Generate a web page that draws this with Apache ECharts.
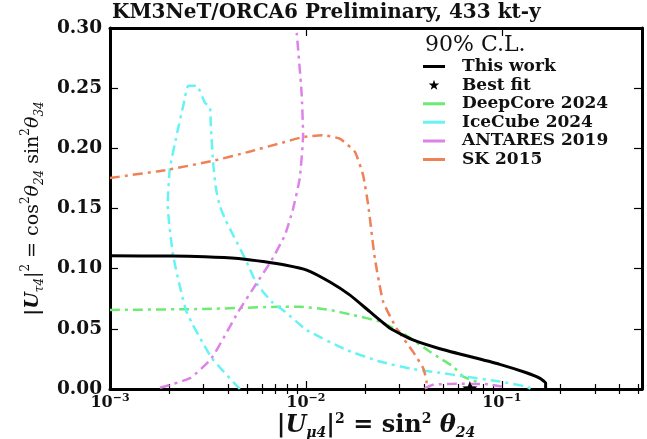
<!DOCTYPE html>
<html>
<head>
<meta charset="utf-8">
<script src="https://cdn.jsdelivr.net/npm/echarts@6/dist/echarts.min.js"></script>
<style>
  html, body { margin: 0; padding: 0; background: #ffffff; }
  #chart { width: 647px; height: 439px; }
</style>
</head>
<body>
<div id="chart"></div>
<script>
// 90% C.L. exclusion contours in the |U_mu4|^2 - |U_tau4|^2 plane, as [x, y] pairs
const thisWork = [
  [0.001, 0.1107], [0.00206, 0.1105], [0.00305, 0.110], [0.00452, 0.1085],
  [0.00618, 0.1057], [0.00782, 0.103], [0.0101, 0.0988], [0.0132, 0.0891],
  [0.0168, 0.078], [0.0212, 0.0643], [0.0269, 0.0505], [0.0352, 0.0408],
  [0.0483, 0.0335], [0.0687, 0.027], [0.0977, 0.0205], [0.1337, 0.0135],
  [0.156, 0.009], [0.1675, 0.0049], [0.1675, 0]
];
const bestFit = [[0.0687, 0]];
const deepCore = [
  [0.001, 0.0657], [0.00305, 0.0665], [0.00782, 0.0684], [0.0093, 0.0684],
  [0.0132, 0.0657], [0.0174, 0.0615], [0.0239, 0.056], [0.0313, 0.0463],
  [0.043, 0.031], [0.0483, 0.0256], [0.0565, 0.0187], [0.0635, 0.0104],
  [0.0743, 0.006]
];
const iceCube = [
  [0.0046, 0], [0.0033, 0.026], [0.00246, 0.064], [0.0021, 0.111],
  [0.00197, 0.153], [0.00202, 0.183], [0.00219, 0.211], [0.00237, 0.236],
  [0.00251, 0.252], [0.00277, 0.252], [0.00305, 0.238], [0.00324, 0.234],
  [0.00327, 0.219], [0.00337, 0.186], [0.00348, 0.166], [0.00364, 0.152],
  [0.0039, 0.140], [0.00425, 0.128], [0.00489, 0.1085], [0.0056, 0.0878],
  [0.00668, 0.0726], [0.00782, 0.0643], [0.0101, 0.049], [0.0161, 0.0325],
  [0.0239, 0.0228], [0.0352, 0.0165], [0.0483, 0.0135], [0.065, 0.0104],
  [0.0977, 0.0062], [0.1337, 0.002], [0.141, 0]
];
const antaresUpper = [
  [0.0018, 0.001], [0.00256, 0.009], [0.0033, 0.0256], [0.00452, 0.0643],
  [0.0056, 0.0878], [0.00668, 0.107], [0.00782, 0.128], [0.00861, 0.150],
  [0.0093, 0.175], [0.00968, 0.211], [0.0095, 0.247], [0.00898, 0.296],
  [0.0089, 0.30]
];
const antaresLower = [
  [0.0404, 0.0005], [0.0446, 0.0035], [0.0588, 0.0043], [0.0838, 0.004],
  [0.1, 0.002]
];
const sk2015 = [
  [0.001, 0.1754], [0.00191, 0.1818], [0.00344, 0.190], [0.00508, 0.197],
  [0.00782, 0.2053], [0.00968, 0.2094], [0.01225, 0.2108], [0.0149, 0.208],
  [0.0178, 0.197], [0.0196, 0.1776], [0.0208, 0.153], [0.0225, 0.1085],
  [0.0248, 0.0726], [0.029, 0.0505], [0.0352, 0.0311], [0.0397, 0.0173],
  [0.0413, 0.0062], [0.0413, 0]
];

// axis ticks and labels
const xMajorTicks = [0.001, 0.01, 0.1];
const xMinorTicks = [
  0.002, 0.003, 0.004, 0.005, 0.006, 0.007, 0.008, 0.009,
  0.02, 0.03, 0.04, 0.05, 0.06, 0.07, 0.08, 0.09,
  0.2, 0.3, 0.4, 0.5
];

const legendNames = ['This work', 'Best fit', 'DeepCore 2024', 'IceCube 2024', 'ANTARES 2019', 'SK 2015'];
const titleText = 'KM3NeT/ORCA6 Preliminary, 433 kt-y';
const legendHeader = '90% C.L.';

const SERIF = 'DejaVu Serif';
const COLORS = {
  thisWork: '#000000',
  deepCore: '#6ceb72',
  iceCube: '#66f3f3',
  antares: '#dc82e8',
  sk: '#ef8157'
};
const DASHDOT = [10, 5, 3, 5];
const X_MIN = 0.001, X_MAX = 0.52;
const FRAME = { show: true, onZero: false, lineStyle: { color: '#000', width: 3 } };
const TICK_STYLE = { color: '#000', width: 1.2 };

// legend icons: drawn inside a 34x12 box so the text sits further right
const BOX = 'M0,0 L0.01,0.01 L0,0.01 Z M33.99,11.99 L34,12 L33.99,12 Z ';
const LINE_ICON = 'path://' + BOX + 'M0,4.5 L22,4.5 L22,7.5 L0,7.5 Z';
const STAR_ICON = 'path://' + BOX + 'M11,0.6 L12.29,4.32 L16.33,4.37 L13.09,6.78 L14.29,10.63 L11,8.3 L7.71,10.63 L8.91,6.78 L5.67,4.37 L9.71,4.32 Z';

function supLabel(v) {
  const e = Math.round(Math.log10(v));
  return '{b|10}{s|' + (e < 0 ? '\u2212' + (-e) : e) + '}';
}

function starPoints(cx, cy, R, r) {
  const pts = [];
  for (let k = 0; k < 10; k++) {
    const a = -Math.PI / 2 + k * Math.PI / 5;
    const rad = k % 2 === 0 ? R : r;
    pts.push([cx + rad * Math.cos(a), cy + rad * Math.sin(a)]);
  }
  return pts;
}

function lineSeries(name, data, color, width, dashed) {
  return {
    type: 'line', name: name, data: data,
    xAxisIndex: 0, yAxisIndex: 0,
    symbol: 'none', smooth: 0.15, clip: true, silent: true,
    lineStyle: { color: color, width: width, type: dashed ? DASHDOT : 'solid', cap: 'butt' },
    itemStyle: { color: color },
    z: dashed ? 3 : 4
  };
}

// extra log axes that only carry minor ticks (an axis whose side is taken
// is placed on the opposite side, so "outward" here points into the plot)
function minorAxis(position) {
  return {
    type: 'log', logBase: 10, min: X_MIN, max: X_MAX, position: position,
    axisLine: { show: false }, splitLine: { show: false },
    axisTick: { show: true, inside: false, length: 5, customValues: xMinorTicks, lineStyle: TICK_STYLE },
    axisLabel: { show: false }
  };
}

const chart = echarts.init(document.getElementById('chart'), null, { renderer: 'canvas' });

const option = {
  animation: false,
  backgroundColor: '#ffffff',
  title: [
    { text: titleText, left: 107, top: -2,
      textStyle: { fontFamily: SERIF, fontWeight: 'bold', fontSize: 20, color: '#111' } },
    { text: legendHeader, left: 420, top: 29,
      textStyle: { fontFamily: SERIF, fontWeight: 'normal', fontSize: 22, color: '#111' } }
  ],
  grid: { left: 110, right: 5, top: 28, bottom: 50, outerBoundsMode: 'none' },
  legend: {
    orient: 'vertical', left: 418, top: 53,
    itemWidth: 34, itemHeight: 12, itemGap: 1.6, symbolKeepAspect: false,
    itemStyle: { borderWidth: 0 },
    textStyle: { fontFamily: SERIF, fontWeight: 'bold', fontSize: 17, color: '#111', lineHeight: 16 },
    selectedMode: false,
    data: [
      { name: legendNames[0], icon: LINE_ICON },
      { name: legendNames[1], icon: STAR_ICON },
      { name: legendNames[2], icon: LINE_ICON },
      { name: legendNames[3], icon: LINE_ICON },
      { name: legendNames[4], icon: LINE_ICON },
      { name: legendNames[5], icon: LINE_ICON }
    ]
  },
  xAxis: [
    {
      type: 'log', logBase: 10, min: X_MIN, max: X_MAX, position: 'bottom',
      axisLine: FRAME, splitLine: { show: false },
      axisTick: { show: true, inside: true, length: 8, customValues: xMajorTicks, lineStyle: TICK_STYLE },
      axisLabel: {
        show: true, customValues: xMajorTicks, margin: 4, formatter: supLabel,
        rich: {
          b: { fontFamily: SERIF, fontWeight: 'bold', fontSize: 16, color: '#111', verticalAlign: 'bottom', lineHeight: 18 },
          s: { fontFamily: SERIF, fontWeight: 'bold', fontSize: 11, color: '#111', verticalAlign: 'top', lineHeight: 10 }
        }
      },
      name: '{m||}{i|U}{sub|\u03bc4}{m||}{sup|2}{m| = sin}{sup|2}{i| \u03b8}{sub|24}',
      nameLocation: 'middle', nameGap: 23, nameMoveOverlap: false,
      nameTextStyle: {
        rich: {
          m: { fontFamily: SERIF, fontWeight: 'bold', fontSize: 24, color: '#111', lineHeight: 28 },
          i: { fontFamily: SERIF, fontWeight: 'bold', fontStyle: 'italic', fontSize: 24, color: '#111', lineHeight: 28 },
          sup: { fontFamily: SERIF, fontWeight: 'bold', fontSize: 14, color: '#111', verticalAlign: 'top', lineHeight: 13 },
          sub: { fontFamily: SERIF, fontWeight: 'bold', fontStyle: 'italic', fontSize: 14, color: '#111', verticalAlign: 'bottom', lineHeight: 13 }
        }
      }
    },
    {
      type: 'log', logBase: 10, min: X_MIN, max: X_MAX, position: 'top',
      axisLine: FRAME, splitLine: { show: false },
      axisTick: { show: true, inside: true, length: 8, customValues: xMajorTicks, lineStyle: TICK_STYLE },
      axisLabel: { show: false }
    },
    minorAxis('top'),
    minorAxis('bottom')
  ],
  yAxis: [
    {
      type: 'value', min: 0, max: 0.3, interval: 0.05, position: 'left',
      axisLine: FRAME, splitLine: { show: false },
      axisTick: { show: true, inside: true, length: 8, lineStyle: TICK_STYLE },
      axisLabel: {
        margin: 8, formatter: v => v.toFixed(2),
        fontFamily: SERIF, fontWeight: 'bold', fontSize: 18.5, color: '#111'
      },
      name: '{i||U}{sub|\u03c44}{m||}{sup|2}{m| = cos}{sup|2}{t|\u03b8}{sub|24}{m| sin}{sup|2}{t|\u03b8}{sub|34}',
      nameLocation: 'middle', nameRotate: 90, nameGap: 64, nameMoveOverlap: false,
      nameTextStyle: {
        rich: {
          m: { fontFamily: SERIF, fontSize: 19, color: '#111', lineHeight: 26 },
          i: { fontFamily: SERIF, fontWeight: 'bold', fontStyle: 'italic', fontSize: 19, color: '#111', lineHeight: 26 },
          t: { fontFamily: SERIF, fontStyle: 'italic', fontSize: 19, color: '#111', lineHeight: 26 },
          sup: { fontFamily: SERIF, fontSize: 12, color: '#111', verticalAlign: 'top', lineHeight: 12 },
          sub: { fontFamily: SERIF, fontStyle: 'italic', fontSize: 12, color: '#111', verticalAlign: 'bottom', lineHeight: 12 }
        }
      }
    },
    {
      type: 'value', min: 0, max: 0.3, interval: 0.05, position: 'right',
      axisLine: FRAME, splitLine: { show: false },
      axisTick: { show: true, inside: true, length: 8, lineStyle: TICK_STYLE },
      axisLabel: { show: false }
    }
  ],
  series: [
    lineSeries(legendNames[2], deepCore, COLORS.deepCore, 2.5, true),
    lineSeries(legendNames[3], iceCube, COLORS.iceCube, 2.5, true),
    lineSeries(legendNames[4], antaresUpper, COLORS.antares, 2.5, true),
    lineSeries(legendNames[4], antaresLower, COLORS.antares, 2.5, true),
    lineSeries(legendNames[5], sk2015, COLORS.sk, 2.5, true),
    lineSeries(legendNames[0], thisWork, COLORS.thisWork, 3, false),
    {
      type: 'custom', name: legendNames[1], data: bestFit, clip: true, silent: true,
      xAxisIndex: 0, yAxisIndex: 0, z: 5,
      itemStyle: { color: '#000' },
      renderItem: function (params, api) {
        const p = api.coord([api.value(0), api.value(1)]);
        return {
          type: 'polygon',
          shape: { points: starPoints(p[0], p[1], 8, 3.3) },
          style: { fill: '#000' }
        };
      }
    }
  ]
};

chart.setOption(option);
</script>
</body>
</html>
